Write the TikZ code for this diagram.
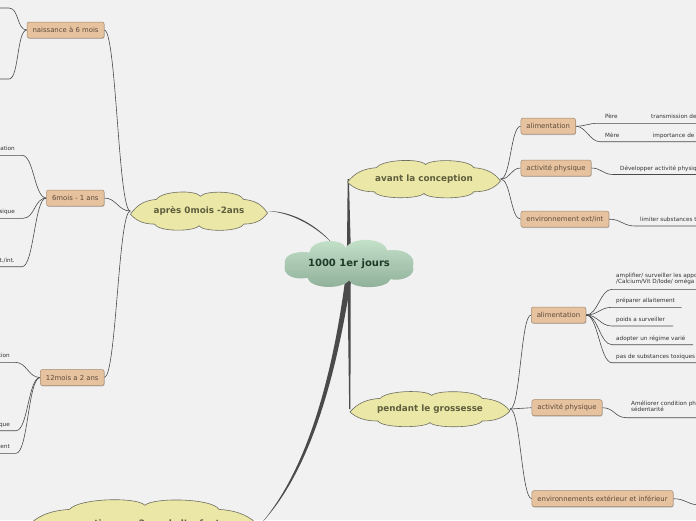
\documentclass[tikz,border=0pt]{standalone}
\usepackage{fontspec}
\setmainfont{DejaVu Sans}
\usetikzlibrary{shadows,backgrounds,calc}
\pgfdeclarelayer{clouds}
\pgfsetlayers{background,clouds,main}
\definecolor{bg}{HTML}{F1F1F1}
\definecolor{boxfill}{HTML}{E6C29F}
\definecolor{boxline}{HTML}{A58A70}
\definecolor{boxtext}{HTML}{5E4B3B}
\definecolor{cloudfill}{HTML}{EBE7A6}
\definecolor{cloudline}{HTML}{6E6E62}
\definecolor{cloudtext}{HTML}{5E5E3E}
\definecolor{maintop}{HTML}{C7E4CC}
\definecolor{mainbot}{HTML}{8FAE99}
\definecolor{maintext}{HTML}{1E3A28}
\definecolor{connc}{HTML}{4A4A4A}
\definecolor{leaftext}{HTML}{333333}
% yellow cloud outline around node #1, half width #2, y scale #3
\newcommand\ycloudoutline[3]{%
  \path[draw=cloudline, fill=cloudfill, line width=0.6pt, shift={(#1.center)}, xscale=#2, yscale=#3]
   (-1,0.15) .. controls (-0.9,-0.3) and (-0.8,-0.5) .. (-0.62,-0.55)
   .. controls (-0.55,-0.95) and (-0.05,-1.02) .. (0.02,-0.7)
   .. controls (0.1,-1.0) and (0.6,-0.95) .. (0.65,-0.55)
   .. controls (0.82,-0.5) and (0.92,-0.3) .. (1,0.1)
   .. controls (0.92,0.45) and (0.82,0.62) .. (0.65,0.62)
   .. controls (0.6,1.0) and (0.05,1.0) .. (0,0.7)
   .. controls (-0.08,1.0) and (-0.6,0.98) .. (-0.65,0.62)
   .. controls (-0.82,0.62) and (-0.92,0.45) .. (-1,0.15) -- cycle;}
\newcommand\maincloudoutline[3]{%
  \shade[top color=maintop, bottom color=mainbot, shift={(#1.center)}, xscale=#2, yscale=#3]
   (-1,0.05) .. controls (-1.05,-0.4) and (-0.75,-0.5) .. (-0.62,-0.42)
   .. controls (-0.6,-0.95) and (-0.1,-1.0) .. (-0.05,-0.6)
   .. controls (0.05,-1.05) and (0.55,-1.0) .. (0.6,-0.5)
   .. controls (0.85,-0.6) and (1.05,-0.3) .. (1,0.1)
   .. controls (1.05,0.5) and (0.8,0.7) .. (0.65,0.6)
   .. controls (0.6,1.0) and (0.05,1.0) .. (0,0.65)
   .. controls (-0.1,1.0) and (-0.6,1.0) .. (-0.65,0.55)
   .. controls (-0.85,0.65) and (-1.05,0.45) .. (-1,0.05) -- cycle;}
\begin{document}
\begin{tikzpicture}[x=1pt,y=-1pt,
  ycloud/.style={rectangle, draw=none, inner sep=0pt, text=cloudtext, font=\bfseries\fontsize{8.8}{10}\selectfont},
  maincloud/.style={rectangle, draw=none, inner sep=0pt, text=maintext, font=\bfseries\fontsize{10}{12}\selectfont, minimum width=128pt, minimum height=47pt},
  box/.style={rounded corners=2pt, draw=boxline, fill=boxfill, text=boxtext, font=\fontsize{6.9}{8}\selectfont, minimum height=16pt, inner xsep=5.5pt, inner ysep=0pt, line width=0.5pt, drop shadow={shadow xshift=0.5pt, shadow yshift=-0.8pt, fill=black, opacity=0.22}},
  leaf/.style={inner sep=0pt, anchor=base west, text=leaftext, font=\fontsize{5.7}{6.2}\selectfont},
  leafr/.style={leaf, anchor=base east},
  leafm/.style={inner sep=0pt, anchor=north west, align=left, text=leaftext, font=\fontsize{5.7}{6.2}\selectfont},
  conn/.style={draw=connc, line width=0.6pt},
  taper/.style={fill=connc},
]
\useasboundingbox (0,0) rectangle (696,520);
\clip (0,0) rectangle (696,520);

% clouds (nodes carry the text; outlines drawn on the clouds layer)
\node[maincloud] (main) at (349,263.5) {1000 1er jours};
\node[ycloud, minimum width=153pt, minimum height=37pt] (avant) at (424,179) {avant la conception};
\node[ycloud, minimum width=160pt, minimum height=35pt] (pendant) at (430,409) {pendant le grossesse};
\node[ycloud, minimum width=137pt, minimum height=38pt] (apres) at (199,211) {après 0mois -2ans};
\node[ycloud, minimum width=235pt, minimum height=48pt] (concl) at (142.5,524.5) {conception - au 2ans de l'enfante};

% boxes left
\node[box, anchor=east] (nai) at (104.3,30) {naissance à 6 mois};
\node[box, anchor=east] (six) at (104.3,198) {6mois - 1 ans};
\node[box, anchor=east] (douze) at (104.3,377.5) {12mois a 2 ans};
% boxes right
\node[box, anchor=west] (alim1) at (520.7,126.2) {alimentation};
\node[box, anchor=west] (act1) at (520.7,168) {activité physique};
\node[box, anchor=west] (env1) at (520.7,219.2) {environnement ext/int};
\node[box, anchor=west] (alim2) at (531,315) {alimentation};
\node[box, anchor=west] (act2) at (531.7,407.7) {activité physique};
\node[box, anchor=west] (env2) at (531.7,498.7) {environnements extérieur et inférieur};

% leaves right (avant)
\coordinate (pA) at (598,123.3); \coordinate (pB) at (623,123.3); \coordinate (pC) at (705,123.3);
\node[leaf] (pere) at (605,118.8) {Père};
\node[leaf] (trans) at (651,118.8) {transmission de};
\coordinate (mA) at (600,141.7); \coordinate (mB) at (623,141.7); \coordinate (mC) at (705,141.7);
\node[leaf] (mere) at (605,137.2) {Mère};
\node[leaf] (impo) at (652.7,137.2) {importance de};
\coordinate (dA) at (613,174.5); \coordinate (dB) at (705,174.5);
\node[leaf] (dev) at (620,170) {Développer activité physique};
\coordinate (lA) at (635,226); \coordinate (lB) at (705,226);
\node[leaf] (lim) at (640,221.5) {limiter substances toxiques};

% leaves right (pendant)
\coordinate (aA) at (612,289.3); \coordinate (aB) at (705,289.3);
\node[leafm] (ampl) at (616,272.6) {amplifier/ surveiller les apports\\/Calcium/Vit D/Iode/ oméga 3};
\coordinate (bA) at (612,307.3); \coordinate (bB) at (681.7,307.3);
\node[leaf] (prep) at (616,302.8) {préparer allaitement};
\coordinate (cA) at (612,326); \coordinate (cB) at (673,326);
\node[leaf] (poids) at (616,321.5) {poids a surveiller};
\coordinate (eA) at (612,344.7); \coordinate (eB) at (693,344.7);
\node[leaf] (adopt) at (616,340.2) {adopter un régime varié};
\coordinate (fA) at (612,362.7); \coordinate (fB) at (705,362.7);
\node[leaf] (pas) at (616,358.2) {pas de substances toxiques};
\coordinate (gA) at (626.7,417.7); \coordinate (gB) at (705,417.7);
\node[leafm] (amel) at (631,401) {Améliorer condition physique\\sédentarité};
\coordinate (hA) at (700,505);

% leaves left
\coordinate (n1A) at (9,8); \coordinate (n1B) at (-5,8);
\coordinate (n2A) at (9,79); \coordinate (n2B) at (-5,79);
\coordinate (s1A) at (22,155.3); \coordinate (s1B) at (-5,155.3);
\node[leafr] (s1) at (15,150.8) {alimentation};
\coordinate (s2A) at (23,218.3); \coordinate (s2B) at (-5,218.3);
\node[leafr] (s2) at (15,213.8) {activité physique};
\coordinate (s3A) at (22,266.7); \coordinate (s3B) at (-5,266.7);
\node[leafr] (s3) at (15,262.2) {environnement ext./int.};
\coordinate (d1A) at (15,362.3); \coordinate (d1B) at (-5,362.3);
\node[leafr] (d1) at (10,357.8) {alimentation};
\coordinate (d2A) at (16,430.7); \coordinate (d2B) at (-5,430.7);
\node[leafr] (d2) at (10,426.2) {activité physique};
\coordinate (d3A) at (16,453.3); \coordinate (d3B) at (-5,453.3);
\node[leafr] (d3) at (10,448.8) {environnement};

\begin{pgfonlayer}{clouds}
\maincloudoutline{main}{64}{26}
\ycloudoutline{avant}{76.5}{20.6}
\ycloudoutline{pendant}{80}{19.4}
\ycloudoutline{apres}{68.5}{21.1}
\ycloudoutline{concl}{117.5}{27.5}
\end{pgfonlayer}

\begin{pgfonlayer}{background}
\fill[bg] (0,0) rectangle (696,520);
% tapered main connectors
\fill[taper] ($(main.center)+(-2.2,0)$) -- ($(avant.west)+(0.4,0)$) -- ($(avant.west)+(1.6,0)$) -- ($(main.center)+(2.2,0)$) -- cycle;
\fill[taper] ($(main.center)+(-1.8,0)$) -- ($(pendant.west)+(-0.6,0)$) -- ($(pendant.west)+(0.6,0)$) -- ($(main.center)+(1.8,0)$) -- cycle;
\fill[taper] (apres.east) .. controls (295,211) and (322,228) .. ($(main.center)+(-10,-12)$) -- ($(main.center)+(-7,-9)$) .. controls (324,231) and (296,213) .. (apres.east) -- cycle;
\fill[taper] ($(main.center)+(-3,10)$) .. controls (335,360) and (312,465) .. (concl.east) .. controls (315,467) and (339,360) .. ($(main.center)+(3,10)$) -- cycle;

% branch connectors
\foreach \b in {nai,six,douze}
  \draw[conn] (apres.west) .. controls +(-12,0) and +(12,0) .. (\b.east);
\foreach \b in {alim1,act1,env1}
  \draw[conn] (avant.east) .. controls +(10,0) and +(-10,0) .. (\b.west);
\foreach \b in {alim2,act2,env2}
  \draw[conn] (pendant.east) .. controls +(10,0) and +(-10,0) .. (\b.west);

% leaf connectors right
\draw[conn] (alim1.east) .. controls +(10,0) and +(-10,0) .. (pA) -- (pB) -- (pC);
\draw[conn] (alim1.east) .. controls +(10,0) and +(-10,0) .. (mA) -- (mB) -- (mC);
\draw[conn] (act1.east) .. controls +(10,0) and +(-10,0) .. (dA) -- (dB);
\draw[conn] (env1.east) .. controls +(12,0) and +(-12,0) .. (lA) -- (lB);
\foreach \l in {a,b,c,e,f}
  \draw[conn] (alim2.east) .. controls +(12,0) and +(-12,0) .. (\l A) -- (\l B);
\draw[conn] (act2.east) .. controls +(12,0) and +(-12,0) .. (gA) -- (gB);
\draw[conn] (env2.east) .. controls +(12,0) and +(-12,0) .. (hA);

% leaf connectors left
\foreach \l in {n1,n2}
  \draw[conn] (nai.west) .. controls +(-10,0) and +(10,0) .. (\l A) -- (\l B);
\foreach \l in {s1,s2,s3}
  \draw[conn] (six.west) .. controls +(-12,0) and +(12,0) .. (\l A) -- (\l B);
\foreach \l in {d1,d2,d3}
  \draw[conn] (douze.west) .. controls +(-12,0) and +(12,0) .. (\l A) -- (\l B);
\end{pgfonlayer}
\end{tikzpicture}
\end{document}
